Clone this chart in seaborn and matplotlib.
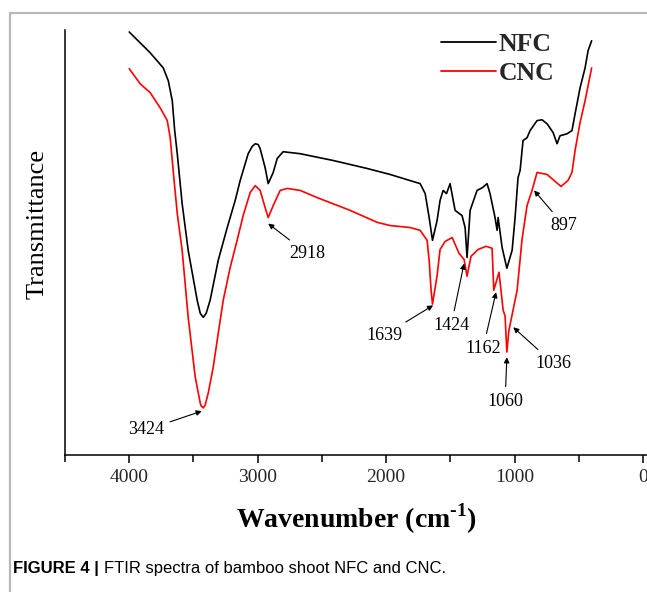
import matplotlib
matplotlib.use("Agg")
import matplotlib.pyplot as plt
import seaborn as sns
import pandas as pd
from matplotlib.lines import Line2D

# ---------------- data ----------------
nfc_wavenumber = [4000, 3837, 3735, 3696, 3665, 3646, 3626, 3588, 3541, 3471,
                  3447, 3424, 3401, 3370, 3307, 3237, 3175, 3136, 3074, 3043,
                  3019, 2996, 2981, 2942, 2918, 2879, 2848, 2802, 2669, 2412,
                  2148, 1969, 1837, 1735, 1696, 1665, 1639, 1603, 1580, 1556,
                  1530, 1502, 1463, 1409, 1385, 1370, 1346, 1292, 1250, 1214,
                  1191, 1152, 1136, 1128, 1097, 1060, 1019, 996, 973, 957,
                  934, 903, 879, 825, 786, 747, 700, 669, 646, 591,
                  553, 529, 490, 451, 428, 400]
nfc_transmittance = [106.0, 100.8, 97.0, 93.8, 88.8, 81.3, 75.5, 63.0, 51.3, 38.8,
                     35.5, 34.5, 35.5, 38.8, 48.8, 57.0, 63.8, 68.8, 75.5, 77.3,
                     78.0, 77.8, 76.8, 72.0, 68.0, 70.8, 74.3, 76.0, 75.5, 73.8,
                     71.8, 70.3, 69.0, 68.0, 65.5, 59.5, 53.8, 58.8, 63.8, 66.3,
                     65.5, 68.0, 61.3, 60.0, 57.0, 49.5, 61.3, 66.3, 67.0, 68.0,
                     65.5, 59.5, 56.3, 59.5, 52.0, 46.8, 51.3, 59.5, 69.5, 71.3,
                     78.8, 79.5, 81.3, 83.8, 84.0, 83.0, 80.8, 78.0, 80.0, 80.5,
                     81.3, 85.5, 92.0, 97.0, 101.3, 103.8]

cnc_wavenumber = [4000, 3914, 3837, 3759, 3704, 3681, 3658, 3626, 3588, 3541,
                  3486, 3447, 3440, 3424, 3409, 3385, 3346, 3307, 3268, 3214,
                  3160, 3113, 3058, 3019, 2981, 2942, 2918, 2879, 2825, 2770,
                  2669, 2537, 2280, 2070, 1969, 1813, 1735, 1681, 1665, 1650,
                  1639, 1603, 1580, 1541, 1486, 1432, 1393, 1370, 1339, 1284,
                  1222, 1175, 1162, 1121, 1089, 1074, 1060, 1045, 1036, 980,
                  942, 903, 864, 825, 747, 693, 638, 584, 553, 529,
                  490, 451, 400]
cnc_transmittance = [96.8, 93.0, 90.8, 87.0, 83.8, 79.5, 71.3, 60.5, 51.3, 34.5,
                     19.5, 13.0, 12.3, 11.8, 12.5, 15.5, 22.0, 30.5, 38.8, 47.0,
                     53.8, 60.0, 65.8, 67.5, 66.3, 62.0, 59.5, 62.5, 66.3, 66.8,
                     66.3, 64.5, 61.3, 58.3, 57.5, 57.0, 56.3, 53.8, 48.8, 41.3,
                     37.8, 45.0, 51.5, 53.5, 54.5, 50.5, 49.0, 44.8, 49.8, 51.5,
                     52.3, 51.8, 41.3, 45.8, 36.3, 34.8, 25.8, 31.0, 32.5, 41.3,
                     54.0, 62.5, 66.3, 70.8, 70.3, 68.8, 67.3, 68.8, 70.8, 76.3,
                     83.3, 88.8, 97.0]

peak_labels = ["3424", "2918", "1639", "1424", "1162", "1060", "1036", "897"]

series_names = ["NFC", "CNC"]
series_colors = ["#000000", "#ff0000"]

# ---------------- layout ----------------
W, H = 647, 592
DPI = 100
# arrow tips / text centres (wavenumber, transmittance) per peak label
arrow_tips = [(3435, 11.0), (2918, 58.0), (1634, 37.5), (1393, 48.0),
              (1144, 40.8), (1060, 24.5), (1010, 32.0), (848, 66.3)]
text_centres = [(3868, 6.3), (2615, 50.5), (2016, 30.0), (1494, 32.5),
                (1245, 26.8), (1074, 13.5), (700, 23.0), (615, 57.5)]

sns.set_theme(style="white")
plt.rcParams["font.family"] = ["Liberation Serif", "DejaVu Serif"]
plt.rcParams["mathtext.fontset"] = "custom"
plt.rcParams["mathtext.rm"] = "Liberation Serif"
plt.rcParams["mathtext.bf"] = "Liberation Serif:bold"

fig = plt.figure(figsize=(W / DPI, H / DPI), dpi=DPI)
fig.patch.set_facecolor("white")
ax = fig.add_axes([65 / W, 1 - 455 / H, 1 - 65 / W, (455 - 30) / H])
ax.set_facecolor("white")

nfc = pd.DataFrame({"wavenumber": nfc_wavenumber, "T": nfc_transmittance})
cnc = pd.DataFrame({"wavenumber": cnc_wavenumber, "T": cnc_transmittance})

sns.lineplot(data=nfc, x="wavenumber", y="T", color=series_colors[0], lw=1.2,
             label=series_names[0], ax=ax, estimator=None)
sns.lineplot(data=cnc, x="wavenumber", y="T", color=series_colors[1], lw=1.2,
             label=series_names[1], ax=ax, estimator=None)

ax.set_xlim(4500, -31)
ax.set_ylim(0, 106.5)

sns.despine(ax=ax, top=True, right=True)
for s in ("left", "bottom"):
    ax.spines[s].set_color("black")
    ax.spines[s].set_linewidth(1.1)

ax.set_xticks([4000, 3000, 2000, 1000, 0])
ax.set_xticklabels(["4000", "3000", "2000", "1000", "0"])
ax.set_xticks([4500, 3500, 2500, 1500, 500], minor=True)
ax.tick_params(axis="x", which="major", direction="out", length=6, width=1.1,
               color="black", labelsize=14, pad=4, bottom=True)
ax.tick_params(axis="x", which="minor", direction="out", length=5, width=1.1,
               color="black", bottom=True)
ax.set_yticks([])

ax.set_xlabel("Wavenumber (cm$^{\\mathbf{\u2010}\\mathbf{1}}$)", fontsize=20,
              fontweight="bold", labelpad=11, color="black")
ax.set_ylabel("Transmittance", fontsize=19, color="black")
ax.yaxis.set_label_coords(-0.0275, 0.543)

leg = ax.legend(loc="upper left", bbox_to_anchor=(441 / W, 1 - 33 / H),
                bbox_transform=fig.transFigure, frameon=False,
                handlelength=2.15, handletextpad=0.1, labelspacing=0.25,
                borderpad=0, borderaxespad=0,
                prop={"family": "Liberation Serif", "weight": "bold", "size": 18.5})
for line in leg.get_lines():
    line.set_linewidth(1.3)

for lab, tip, txt in zip(peak_labels, arrow_tips, text_centres):
    ax.annotate(lab, xy=tip, xytext=txt, ha="center", va="center",
                fontsize=13, color="black",
                arrowprops=dict(arrowstyle="-|>", color="black", lw=0.8,
                                mutation_scale=8, shrinkA=2, shrinkB=0))

# page frame (light grey) and caption
fig.add_artist(Line2D([9.5 / W, 9.5 / W], [0, 1 - 12.5 / H],
                      transform=fig.transFigure, color="#b8b8b8", lw=1.6))
fig.add_artist(Line2D([9.5 / W, 1], [1 - 12.5 / H, 1 - 12.5 / H],
                      transform=fig.transFigure, color="#b8b8b8", lw=1.6))

cap1 = fig.text(13 / W, 1 - 569 / H, "FIGURE 4 | ", fontsize=12,
                fontweight="bold", family="Liberation Sans", va="center",
                ha="left", color="black")
fig.canvas.draw()
bb = cap1.get_window_extent(renderer=fig.canvas.get_renderer())
fig.text(bb.x1 / W, 1 - 569 / H, "FTIR spectra of bamboo shoot NFC and CNC.",
         fontsize=12, family="Liberation Sans", va="center", ha="left",
         color="black")

fig.savefig("out.png", dpi=DPI, facecolor="white")
